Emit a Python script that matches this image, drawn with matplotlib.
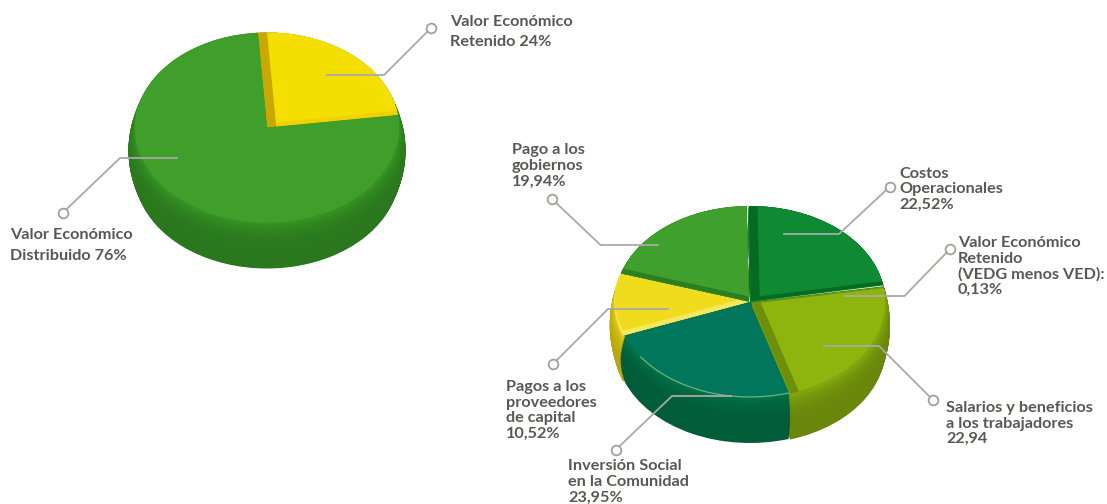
import matplotlib
matplotlib.use("Agg")
import matplotlib.pyplot as plt
from matplotlib.patches import Arc
import numpy as np

W, H = 1107, 504

# ---- data
pie1_labels = ["Valor Económico Retenido", "Valor Económico Distribuido"]
pie1_values = [24, 76]
pie2_labels = ["Costos Operacionales", "Valor Económico Retenido", "Salarios y beneficios",
               "Inversión Social", "Pagos a los proveedores", "Pago a los gobiernos"]
pie2_values = [22.52, 0.13, 22.94, 23.95, 10.52, 19.94]

# ---- styles
pie1_face = ["#f5df00", "#3f9f2a"]
pie1_wall = ["#c9a800", "#3f9f2a"]
pie1_lip = ["#efd200", "#3f9f2a"]
pie1_side = ["#2f8420", "#2f8420"]
pie1_shift = [(0.07, 0.055), (0, 0)]

pie2_face = ["#0f8a34", "#d8efc8", "#8eb40e", "#00765a", "#f0dc1c", "#40a02d"]
pie2_wall = ["#066b22", "#d8efc8", "#6f8f0a", "#00765a", "#f5e860", "#2c7f20"]
pie2_lip = pie2_wall
pie2_side = ["#0b7a2c", "#0b7a2c", "#76960c", "#00663f", "#cdb913", "#2f8420"]
pie2_shift = [(0.065, 0.05), (0, 0), (0.07, 0.0), (0, 0), (0.0, 0.05), (0.0, 0.05)]
pie2_explode = [0.012, 0.012, 0.012, 0.0, 0.012, 0.012]


def darker(c, f):
    r = np.array(matplotlib.colors.to_rgb(c))
    return tuple(np.clip(r * f, 0, 1))


def draw_pie(cx, cy, rx, ry, depth, bulge, values, face, wall, lip, side, shift, explode, start):
    ax = fig.add_axes([(cx - rx) / W, 1 - (cy + ry) / H, 2 * rx / W, 2 * ry / H])
    ax.patch.set_alpha(0)
    d = depth / ry
    n = 30
    for i in range(n, -1, -1):
        t = i / n
        cols = [darker(c, 0.9 + 0.25 * (1 - t) ** 5) for c in side]
        ax.pie(values, colors=cols, startangle=start, counterclock=False,
               explode=explode, center=(0, -d * t),
               radius=1 + bulge * np.sin(np.pi * t), frame=False)
    bases, _ = ax.pie(values, colors=wall, startangle=start, counterclock=False,
                      explode=explode, center=(0, 0), radius=1, frame=False)
    # inner wall and top face: same slices, nudged, clipped to their own slice outline
    for k, (colors, fx, fy) in enumerate([(lip, 1, 0), (face, 1, 1)]):
        for j in range(len(values)):
            sx, sy = shift[j]
            if sx == 0 and sy == 0 and k == 0:
                continue
            ws, _ = ax.pie(values, colors=colors, startangle=start, counterclock=False,
                           explode=explode, center=(sx * fx, sy * fy), radius=1, frame=False)
            for i, w in enumerate(ws):
                if i == j:
                    w.set_clip_on(True)
                    w.set_clip_box(None)
                    w.set_clip_path(bases[j])
                else:
                    w.set_visible(False)
    # pale rim on the front of each slice
    for b in bases:
        lo, hi = max(b.theta1 % 360 if b.theta1 % 360 < b.theta2 % 360 else 0, 215), min(b.theta2 % 360 or 360, 325)
        if hi > lo:
            ax.add_patch(Arc(b.center, 2.0, 2.0, theta1=lo, theta2=hi, color="#c8e4a8",
                             lw=0.9, alpha=0.55, clip_on=False))
    ax.set_aspect("auto")
    ax.set_xlim(-1, 1)
    ax.set_ylim(-1, 1)
    ax.set_axis_off()
    return ax


fig = plt.figure(figsize=(W / 100, H / 100), dpi=100, facecolor="white")

draw_pie(267, 127.5, 132, 95, 46, 0.05, pie1_values, pie1_face, pie1_wall, pie1_lip, pie1_side,
         pie1_shift, [0, 0], 94)
draw_pie(750, 302, 134, 95, 46, 0.035, pie2_values, pie2_face, pie2_wall, pie2_lip, pie2_side,
         pie2_shift, pie2_explode, 91)

# ---- overlay for leaders and labels in pixel coordinates
ov = fig.add_axes([0, 0, 1, 1], zorder=5)
ov.set_xlim(0, W)
ov.set_ylim(H, 0)
ov.set_axis_off()
ov.patch.set_alpha(0)

leaders = [
    ([327, 384, 431], [75, 75, 28]),
    ([177, 120, 62.5], [158, 158, 213]),
    ([784, 839, 889.5], [234, 234, 187]),
    ([845, 904.5, 950], [296, 296, 249]),
    ([824, 879, 933], [346, 346, 400]),
    ([731, 672, 615.5], [396, 396, 450]),
    ([668, 608, 553], [309, 309, 364]),
    ([658, 600.5, 552], [245, 245, 199]),
]
for xs, ys in leaders:
    ov.plot(xs, ys, color="#a9a9a6", lw=1.3, solid_joinstyle="miter")
    ov.plot(xs[-1], ys[-1], "o", ms=7, mfc="white", mec="#a0a09c", mew=1.3)

labels = [
    (450, [22, 42], ["Valor Económico", "Retenido 24%"]),
    (10, [235, 256], ["Valor Económico", "Distribuido 76%"]),
    (512, [150, 166, 182], ["Pago a los", "gobiernos", "19,94%"]),
    (899, [174, 189, 205], ["Costos", "Operacionales", "22,52%"]),
    (958, [243, 259, 274, 290], ["Valor Económico", "Retenido", "(VEDG menos VED):", "0,13%"]),
    (946, [408, 424, 439], ["Salarios y beneficios", "a los trabajadores", "22,94"]),
    (568, [466, 482, 498], ["Inversión Social", "en la Comunidad", "23,95%"]),
    (506, [387, 403, 418, 434], ["Pagos a los", "proveedores", "de capital", "10,52%"]),
]
for x, ys, lines in labels:
    for y, s in zip(ys, lines):
        ov.text(x, y, s, fontfamily="Lato", fontweight="bold", fontsize=11.7,
                color="#585855", ha="left", va="center", clip_on=True)

fig.savefig("out.png", dpi=100, facecolor="white")
